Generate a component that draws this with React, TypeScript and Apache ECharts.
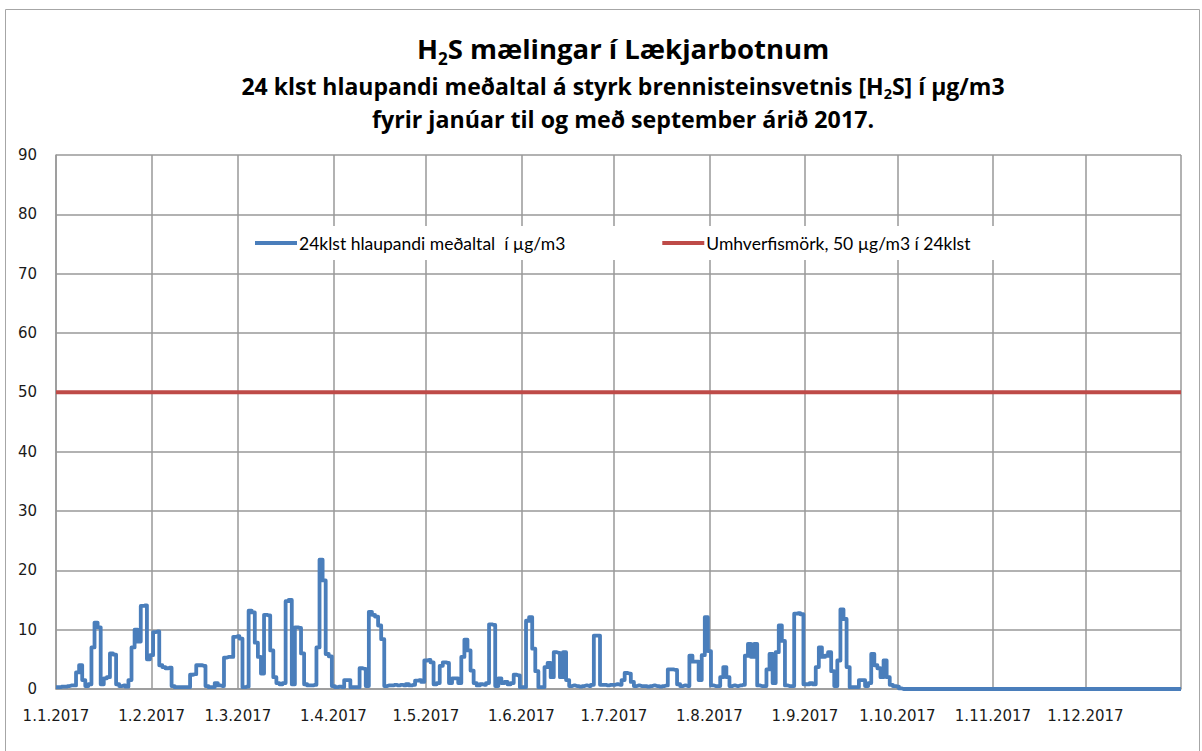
import React, { useEffect, useRef } from "react";
import * as echarts from "echarts";

// Month-start tick labels shown on the x axis
const tickLabels = [
  "1.1.2017", "1.2.2017", "1.3.2017", "1.4.2017", "1.5.2017", "1.6.2017",
  "1.7.2017", "1.8.2017", "1.9.2017", "1.10.2017", "1.11.2017", "1.12.2017",
];

// Daily 24h running average H2S (µg/m3), day 0 = 1.1.2017
const h2sDaily = [
  0.3, 0.3, 0.4, 0.4, 0.5, 0.6, 0.6, 2.8, 4.0, 1.5,
  0.5, 0.8, 7.0, 11.2, 10.4, 0.8, 1.8, 2.0, 6.0, 5.8,
  0.8, 0.5, 0.6, 0.4, 1.5, 7.0, 10.0, 8.0, 14.0, 14.1,
  5.0, 5.7, 9.6, 9.7, 4.0, 3.7, 3.5, 3.6, 0.5, 0.3,
  0.3, 0.3, 0.3, 0.3, 2.4, 2.5, 4.0, 4.0, 3.9, 0.5,
  0.3, 0.3, 1.0, 0.6, 0.5, 5.3, 5.4, 5.4, 8.8, 8.9,
  8.5, 0.3, 0.4, 13.2, 12.9, 7.8, 5.4, 2.6, 12.5, 12.4,
  6.5, 2.0, 1.0, 0.8, 1.0, 14.8, 15.0, 0.8, 10.4, 10.3,
  6.0, 0.8, 0.6, 0.6, 0.7, 7.0, 21.8, 18.3, 5.9, 5.5,
  0.5, 0.3, 0.4, 0.3, 1.5, 1.5, 0.3, 0.3, 0.3, 3.5,
  3.4, 0.5, 13.0, 12.5, 12.2, 10.7, 8.4, 0.5, 0.6, 0.6,
  0.7, 0.6, 0.7, 0.6, 0.8, 0.6, 0.7, 1.4, 1.5, 1.2,
  4.8, 4.9, 4.5, 0.8, 1.0, 3.9, 4.5, 4.4, 1.0, 1.8,
  1.8, 1.0, 5.4, 8.3, 6.5, 3.1, 1.0, 0.6, 0.8, 0.7,
  1.0, 10.9, 10.8, 0.5, 1.8, 1.0, 1.2, 0.8, 1.0, 2.4,
  2.3, 0.3, 0.3, 11.5, 12.1, 6.8, 3.0, 0.3, 0.3, 3.7,
  4.4, 2.0, 6.2, 6.1, 2.0, 6.2, 1.5, 0.5, 0.6, 0.5,
  0.4, 0.5, 0.6, 0.5, 0.7, 9.0, 9.0, 0.7, 0.7, 0.6,
  0.7, 0.7, 0.8, 0.7, 1.5, 2.7, 2.6, 1.2, 0.5, 0.6,
  0.5, 0.5, 0.4, 0.5, 0.6, 0.5, 0.4, 0.5, 0.6, 3.3,
  3.3, 3.2, 0.8, 0.5, 0.6, 0.5, 5.6, 4.6, 4.6, 1.5,
  5.7, 12.1, 6.4, 0.6, 0.5, 0.5, 2.0, 3.7, 2.0, 0.5,
  0.6, 0.5, 0.6, 0.7, 5.6, 7.6, 5.4, 7.6, 0.6, 0.5,
  0.5, 3.3, 5.9, 1.0, 6.2, 10.7, 8.1, 0.6, 0.5, 0.5,
  12.7, 12.8, 12.6, 0.8, 0.8, 1.0, 0.8, 3.7, 7.0, 5.4,
  5.6, 6.2, 3.0, 0.5, 4.8, 13.4, 11.8, 3.7, 0.3, 0.3,
  0.3, 1.5, 1.5, 0.5, 1.0, 5.9, 4.0, 3.5, 2.0, 4.8,
  2.0, 0.7, 0.5, 0.4, 0.1, 0.0,
];
const yearEndValue = 0.0; // value at 1.1.2018 (no measurements after early October)

const limitValue = 50; // Umhverfismörk, 50 µg/m3 í 24klst

const seriesNames = [
  "24klst hlaupandi meðaltal  í µg/m3",
  "Umhverfismörk, 50 µg/m3 í 24klst",
];

const yTicks = { min: 0, max: 90, interval: 10 };

function buildCategories(): string[] {
  const out: string[] = [];
  const start = Date.UTC(2017, 0, 1);
  for (let i = 0; i <= 365; i++) {
    const d = new Date(start + i * 86400000);
    out.push(`${d.getUTCDate()}.${d.getUTCMonth() + 1}.${d.getUTCFullYear()}`);
  }
  return out;
}

export default function App() {
  const ref = useRef<HTMLDivElement>(null);

  useEffect(() => {
    document.body.style.margin = "0";
    if (!ref.current) return;
    const chart = echarts.init(ref.current, undefined, { renderer: "svg" });
    const categories = buildCategories();
    const lastIdx = categories.length - 1;
    const blueData: (number | null)[] = categories.map((_, i) =>
      i < h2sDaily.length ? h2sDaily[i] : i === lastIdx ? yearEndValue : null
    );
    const isTick = (idx: number, val: string) =>
      idx < lastIdx && tickLabels.indexOf(val) >= 0;

    const titleFont = "Open Sans";
    const tStyle = { fontFamily: titleFont, fontWeight: "bold" as const, color: "#000" };
    const titleCenterX = 618;

    chart.setOption({
      animation: false,
      backgroundColor: "#fff",
      graphic: [
        {
          type: "rect",
          shape: { x: 5.5, y: 9.5, width: 1194, height: 760 },
          style: { fill: "none", stroke: "#a6a6a6", lineWidth: 1 },
          silent: true,
          z: -1,
        },
      ],
      title: [
        {
          text: "{b|H}{s|2}{b|S mælingar í Lækjarbotnum}",
          left: titleCenterX,
          textAlign: "center",
          top: 29,
          textStyle: {
            rich: {
              b: { ...tStyle, fontSize: 27.5, verticalAlign: "bottom", padding: [0, 0, 5, 0] },
              s: { ...tStyle, fontSize: 17, verticalAlign: "bottom" },
            },
          },
        },
        {
          text: "{b|24 klst hlaupandi meðaltal á styrk brennisteinsvetnis [H}{s|2}{b|S] í µg/m3}",
          left: titleCenterX,
          textAlign: "center",
          top: 69,
          textStyle: {
            rich: {
              b: { ...tStyle, fontSize: 23, verticalAlign: "bottom", padding: [0, 0, 4, 0] },
              s: { ...tStyle, fontSize: 14.5, verticalAlign: "bottom" },
            },
          },
        },
        {
          text: "fyrir janúar til og með september árið 2017.",
          left: titleCenterX,
          textAlign: "center",
          top: 102,
          textStyle: { ...tStyle, fontSize: 23.2 },
        },
      ],
      legend: {
        left: 247,
        top: 226,
        padding: [8, 30, 8, 8],
        backgroundColor: "#fff",
        itemWidth: 42,
        itemHeight: 4,
        itemGap: 97,
        icon: "rect",
        textStyle: { fontFamily: "Lato", fontSize: 17.5, color: "#000", padding: [0, 0, 0, -3] },
        data: seriesNames,
      },
      grid: { left: 56, right: 21, top: 155, bottom: 62, show: false },
      xAxis: {
        type: "category",
        data: categories,
        boundaryGap: false,
        axisLine: { show: true, lineStyle: { color: "#999", width: 1.5 } },
        axisTick: { show: false },
        axisLabel: {
          interval: isTick,
          margin: 19,
          fontFamily: "DejaVu Sans",
          fontSize: 15,
          color: "#1a1a1a",
        },
        splitLine: {
          show: true,
          interval: (idx: number, val: string) => idx === lastIdx || isTick(idx, val),
          lineStyle: { color: "#999", width: 1.5 },
        },
      },
      yAxis: {
        type: "value",
        min: yTicks.min,
        max: yTicks.max,
        interval: yTicks.interval,
        axisLine: { show: true, lineStyle: { color: "#999", width: 1.5 } },
        axisTick: { show: false },
        axisLabel: { margin: 19, fontFamily: "DejaVu Sans", fontSize: 15, color: "#1a1a1a" },
        splitLine: { show: true, lineStyle: { color: "#999", width: 1.5 } },
      },
      series: [
        {
          name: seriesNames[0],
          type: "line",
          data: blueData,
          step: "middle",
          connectNulls: true,
          showSymbol: false,
          symbol: "none",
          color: "#4a7ebb",
          lineStyle: { color: "#4a7ebb", width: 3.8, join: "round" },
          z: 3,
        },
        {
          name: seriesNames[1],
          type: "line",
          data: [
            [categories[0], limitValue],
            [categories[lastIdx], limitValue],
          ],
          showSymbol: false,
          symbol: "none",
          color: "#be4b48",
          lineStyle: { color: "#be4b48", width: 4 },
          z: 2,
        },
      ],
    });
    return () => chart.dispose();
  }, []);

  return <div ref={ref} style={{ width: 1202, height: 751 }} />;
}
